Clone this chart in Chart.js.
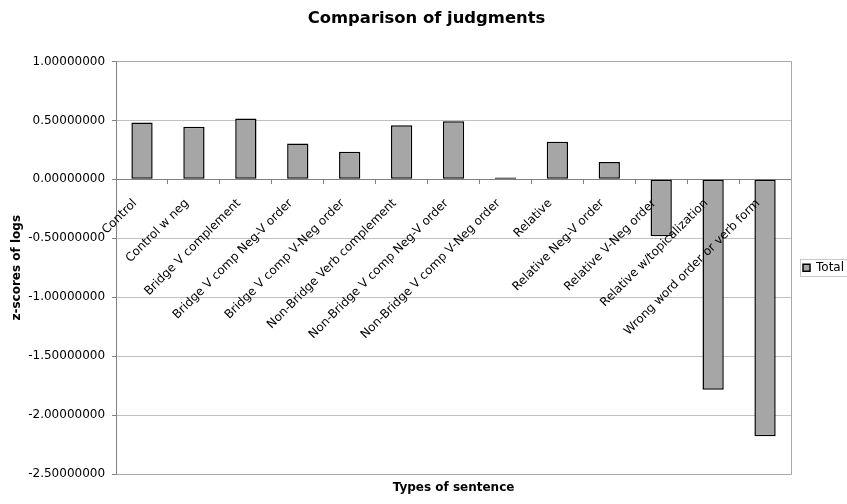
<!DOCTYPE html>
<html>
<head>
<meta charset="utf-8">
<title>Comparison of judgments</title>
<script src="https://cdn.jsdelivr.net/npm/chart.js@4/dist/chart.umd.min.js"></script>
<style>
  html, body { margin: 0; padding: 0; background: #fff; overflow: hidden; }
  #wrap { width: 847px; height: 504px; position: relative; }
</style>
</head>
<body>
<div id="wrap"><canvas id="chart"></canvas></div>
<script>
// Sentence types (categories) and their mean z-scores of log ratings
const categories = [
  'Control',
  'Control w neg',
  'Bridge V complement',
  'Bridge V comp Neg-V order',
  'Bridge V comp V-Neg order',
  'Non-Bridge Verb complement',
  'Non-Bridge V comp Neg-V order',
  'Non-Bridge V comp V-Neg order',
  'Relative',
  'Relative Neg-V order',
  'Relative V-Neg order',
  'Relative w/topicalization',
  'Wrong word order or verb form'
];
const totals = [
  0.483, 0.446, 0.517, 0.305, 0.234, 0.458, 0.492,
  0.015, 0.319, 0.147, -0.483, -1.786, -2.180
];
const seriesName = 'Total';

// Value axis range and tick step
const yRange = [-2.5, 1.0];
const yStep = 0.5;
const yDecimals = 8;

Chart.defaults.font.family = "'DejaVu Sans', Verdana, sans-serif";
Chart.defaults.font.size = 12;
Chart.defaults.color = '#000';

// Grey frame around the plot area (top, right, bottom edges)
const plotFrame = {
  id: 'plotFrame',
  beforeDatasetsDraw(chart) {
    const { ctx, chartArea: a } = chart;
    ctx.save();
    ctx.strokeStyle = '#a8a8a8';
    ctx.lineWidth = 1;
    ctx.beginPath();
    ctx.moveTo(Math.round(a.left) + 0.5, Math.round(a.top) + 0.5);
    ctx.lineTo(Math.round(a.right) + 0.5, Math.round(a.top) + 0.5);
    ctx.lineTo(Math.round(a.right) + 0.5, Math.round(a.bottom) + 0.5);
    ctx.lineTo(Math.round(a.left) + 0.5, Math.round(a.bottom) + 0.5);
    ctx.stroke();
    ctx.restore();
  }
};

// Thin box around the legend entry
const legendBox = {
  id: 'legendBox',
  afterDraw(chart) {
    const lg = chart.legend;
    if (!lg || !lg.legendHitBoxes || !lg.legendHitBoxes.length) return;
    const hb = lg.legendHitBoxes[0];
    const cy = hb.top + hb.height / 2;
    const { ctx } = chart;
    ctx.save();
    ctx.strokeStyle = '#c8c8c8';
    ctx.lineWidth = 1;
    ctx.strokeRect(Math.round(hb.left) - 2.5, Math.round(cy) - 8.5, 80, 17);
    ctx.restore();
  }
};

new Chart(document.getElementById('chart'), {
  type: 'bar',
  data: {
    labels: categories,
    datasets: [{
      label: seriesName,
      data: totals,
      xAxisID: 'x',
      yAxisID: 'y',
      backgroundColor: '#a6a6a6',
      borderColor: '#000',
      borderWidth: 1.5,
      borderSkipped: false,
      barPercentage: 0.41,
      categoryPercentage: 1.0
    }]
  },
  options: {
    responsive: true,
    maintainAspectRatio: false,
    animation: false,
    events: [],
    layout: { padding: { left: 6, right: 0, top: 0, bottom: 4.6 } },
    plugins: {
      title: {
        display: true,
        text: 'Comparison of judgments',
        color: '#000',
        font: { size: 16.4, weight: 'bold' },
        padding: { top: 9, bottom: 32.8 }
      },
      legend: {
        display: true,
        position: 'right',
        fullSize: false,
        maxWidth: 56,
        labels: {
          boxWidth: 7,
          boxHeight: 7,
          padding: 12,
          color: '#000',
          font: { size: 12 }
        }
      },
      tooltip: { enabled: false }
    },
    scales: {
      x: {
        type: 'category',
        position: { y: 0 },
        offset: true,
        grid: {
          display: true,
          offset: true,
          drawOnChartArea: false,
          drawTicks: true,
          tickLength: 4,
          tickColor: '#808080'
        },
        border: { display: true, color: '#808080', width: 1 },
        ticks: {
          autoSkip: false,
          minRotation: 45,
          maxRotation: 45,
          padding: 13,
          labelOffset: -7,
          z: 1,
          color: '#000',
          font: { size: 12 }
        },
        afterFit(scale) { scale.height = 0; }
      },
      x2: {
        type: 'category',
        position: 'bottom',
        grid: { display: false, drawTicks: false },
        border: { display: false },
        ticks: { display: false },
        title: {
          display: true,
          text: 'Types of sentence',
          color: '#000',
          font: { size: 12, weight: 'bold' },
          padding: { top: 7, bottom: 4 }
        }
      },
      y: {
        min: yRange[0],
        max: yRange[1],
        ticks: {
          stepSize: yStep,
          padding: 7,
          color: '#000',
          font: { size: 12 },
          callback: v => Number(v).toFixed(yDecimals)
        },
        grid: { color: '#c0c0c0', tickColor: '#808080', tickLength: 4 },
        border: { display: true, color: '#808080', width: 1 },
        title: {
          display: true,
          text: 'z-scores of logs',
          color: '#000',
          font: { size: 12, weight: 'bold' },
          padding: { top: 3.8, bottom: -3 }
        }
      }
    }
  },
  plugins: [plotFrame, legendBox]
});
</script>
</body>
</html>
